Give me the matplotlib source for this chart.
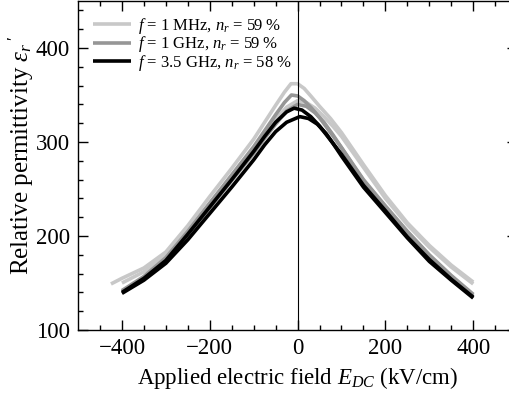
import matplotlib
matplotlib.use('Agg')
import matplotlib.pyplot as plt

plt.rcParams['font.family'] = ['Liberation Serif', 'DejaVu Serif']
plt.rcParams['mathtext.fontset'] = 'custom'
plt.rcParams['mathtext.rm'] = 'Liberation Serif'
plt.rcParams['mathtext.it'] = 'Liberation Serif:italic'

# two sweeps per frequency
x_lg1 = [-425, -400, -350, -300, -250, -200, -150, -100, -75, -50, -30, -15, 0, 15, 30, 50, 75, 100, 150, 200, 250, 300, 350, 400]
y_lg1 = [149, 155, 166, 183, 211, 242, 272, 303, 321, 339, 353, 362, 362, 357, 349, 338, 325, 310, 276, 243, 214, 190, 169, 151]
x_lg2 = [-400, -350, -300, -250, -200, -150, -100, -75, -50, -25, 0, 20, 40, 60, 80, 100, 150, 200, 250, 300, 350, 400]
y_lg2 = [150, 162, 179, 206, 235, 264, 293, 309, 324, 337, 344, 342, 336, 327, 317, 306, 273, 240, 212, 188, 167, 149]
x_mg1 = [-400, -350, -300, -250, -200, -150, -100, -75, -50, -30, -14, 0, 15, 30, 50, 75, 100, 150, 200, 250, 300, 350, 400]
y_mg1 = [142, 157, 177, 205, 235, 265, 295, 312, 329, 342, 350, 349, 344, 337, 326, 310, 294, 260, 232, 205, 180, 158, 138]
x_mg2 = [-400, -350, -300, -250, -200, -150, -100, -75, -50, -25, 0, 20, 40, 60, 80, 100, 150, 200, 250, 300, 350, 400]
y_mg2 = [141, 155, 174, 201, 230, 259, 288, 304, 319, 333, 340, 338, 331, 321, 308, 294, 259, 231, 204, 179, 157, 137]
x_bk1 = [-400, -350, -300, -250, -200, -150, -100, -75, -50, -25, -8, 10, 30, 50, 75, 100, 150, 200, 250, 300, 350, 400]
y_bk1 = [140, 155, 174, 202, 231, 260, 290, 306, 321, 332, 336, 334, 327, 317, 302, 287, 254, 227, 199, 175, 154, 135]
x_bk2 = [-400, -350, -300, -250, -200, -150, -100, -75, -50, -25, 5, 25, 45, 65, 80, 100, 150, 200, 250, 300, 350, 400]
y_bk2 = [139, 153, 171, 196, 224, 252, 281, 297, 311, 321, 327, 325, 319, 309, 299, 285, 252, 225, 198, 173, 153, 134]

labels = [r'$f$ = 1 MHz, $n_r$ = 59 %',
          r'$f$ = 1 GHz, $n_r$ = 59 %',
          r'$f$ = 3.5 GHz, $n_r$ = 58 %']
colors = ['#c8c8c8', '#969696', '#000000']

fig = plt.figure(figsize=(5.10, 4.01), dpi=100)
ax = fig.add_axes([0.153, 0.177, 0.861, 0.8205])

lw = 2.6
kw = dict(lw=lw, solid_joinstyle='round', solid_capstyle='butt')
ax.plot(x_lg1, y_lg1, color=colors[0], label=labels[0], **kw)
ax.plot(x_lg2, y_lg2, color=colors[0], **kw)
ax.plot(x_mg1, y_mg1, color=colors[1], label=labels[1], **kw)
ax.plot(x_mg2, y_mg2, color=colors[1], **kw)
ax.plot(x_bk1, y_bk1, color=colors[2], label=labels[2], **kw)
ax.plot(x_bk2, y_bk2, color=colors[2], **kw)
ax.axvline(0, color='black', lw=0.8)

ax.set_xlim(-500, 500)
ax.set_ylim(100, 450)
ax.set_xticks([-400, -200, 0, 200, 400])
ax.set_xticklabels(['\u2212400', '\u2212200', '0', '200', '400'])
ax.set_yticks([100, 200, 300, 400])
ax.set_xticks(range(-450, 500, 50), minor=True)
ax.set_yticks(range(100, 451, 20), minor=True)
ax.tick_params(which='both', direction='in', top=True, right=True, labelsize=16.5, width=1)
ax.tick_params(which='major', length=7, pad=6)
ax.tick_params(which='minor', length=3.5)
for s in ax.spines.values():
    s.set_linewidth(1)

ax.set_xlabel(r'Applied electric field $E_{DC}$ (kV/cm)', fontsize=16.5, labelpad=4)
ax.set_ylabel(r"Relative permittivity $\varepsilon_r\,'$", fontsize=18)
ax.yaxis.set_label_coords(-0.095, 0.53)

ax.legend(loc='upper left', frameon=False, fontsize=12, handlelength=2.3,
          handletextpad=0.4, labelspacing=-0.1, borderaxespad=0.6, borderpad=0.3)

fig.savefig('out.png', dpi=100)
